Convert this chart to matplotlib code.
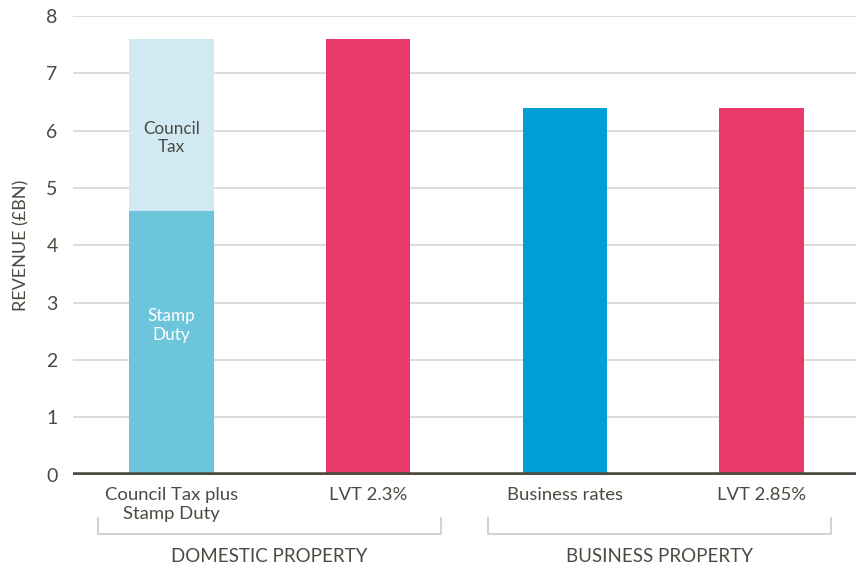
import matplotlib
matplotlib.use("Agg")
import matplotlib.pyplot as plt

plt.rcParams['font.family'] = ['Lato', 'DejaVu Sans']

categories = ["Council Tax plus\nStamp Duty", "LVT 2.3%", "Business rates", "LVT 2.85%"]
stamp_duty = [4.6, 0, 0, 0]
council_tax = [3.0, 0, 0, 0]
single_values = [0, 7.6, 6.4, 6.4]
groups = ["DOMESTIC PROPERTY", "BUSINESS PROPERTY"]
y_ticks = [0, 1, 2, 3, 4, 5, 6, 7, 8]

text_col = "#4a4b40"
fig = plt.figure(figsize=(8.56, 5.71), dpi=100)
ax = fig.add_axes([73/856, 1-474.5/571, 1-73/856, (474.5-16)/571])

x = list(range(len(categories)))
w = 0.43
ax.bar(x[0], stamp_duty[0], width=w, color="#6dc5db", zorder=3)
ax.bar(x[0], council_tax[0], bottom=stamp_duty[0], width=w, color="#d0e9f3", zorder=3)
ax.bar(x[1], single_values[1], width=w, color="#e8396a", zorder=3)
ax.bar(x[2], single_values[2], width=w, color="#009fd6", zorder=3)
ax.bar(x[3], single_values[3], width=w, color="#e8396a", zorder=3)

ax.text(x[0], 5.87, "Council\nTax", ha="center", va="center",
        fontsize=12.3, color=text_col, zorder=4, linespacing=1.2)
ax.text(x[0], 2.6, "Stamp\nDuty", ha="center", va="center",
        fontsize=12.3, color="white", zorder=4, linespacing=1.2)

ax.set_xlim(-0.5, 3.48)
ax.set_ylim(0, 8)
ax.set_yticks(y_ticks)
ax.yaxis.grid(True, color="#d6d6d2", linewidth=1.2, zorder=0)
ax.axhline(0, color="#4a4d3f", linewidth=4, zorder=5)
for s in ax.spines.values():
    s.set_visible(False)
ax.tick_params(axis="y", length=0, pad=11, labelsize=14, labelcolor=text_col)
ax.set_xticks(x)
ax.set_xticklabels(categories, fontsize=13.3, color=text_col, linespacing=1.2)
ax.tick_params(axis="x", length=0, pad=9)
ax.set_ylabel("REVENUE (£BN)", fontsize=13, color=text_col, labelpad=12)

# group brackets
def px_to_fig(px, py):
    return px/856, 1-py/571

for (x0, x1), label in zip([(98, 441), (488, 831)], groups):
    fx0, fy0 = px_to_fig(x0, 518)
    fx1, fy1 = px_to_fig(x1, 534)
    fig.add_artist(plt.Line2D([fx0, fx0, fx1, fx1], [fy0, fy1, fy1, fy0],
                              color="#d3d3cf", linewidth=1.5))
    cx, cy = px_to_fig((x0+x1)/2, 557)
    fig.text(cx, cy, label, ha="center", va="center", fontsize=13.5, color=text_col)

fig.savefig("out.png", dpi=100)
